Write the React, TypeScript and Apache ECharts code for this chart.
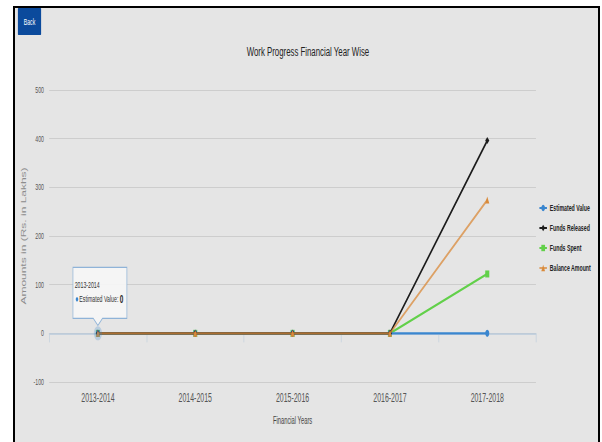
import React, { useEffect, useRef } from "react";
import * as echarts from "echarts";

const categories = ["2013-2014", "2014-2015", "2015-2016", "2016-2017", "2017-2018"];
const estimatedValue = [0, 0, 0, 0, 0];
const fundsReleased = [0, 0, 0, 0, 396];
const fundsSpent = [0, 0, 0, 0, 122];
const balanceAmount = [0, 0, 0, 0, 274];
const yTicks = { min: -100, max: 500, interval: 100 };

const FONT = "'Liberation Sans', Arial, sans-serif";
const COLORS = ["#3a86cf", "#1c1c1c", "#62d04a", "#d98a3a"];

// the reference is a horizontally squeezed screenshot: draw wide, then squeeze
const FRAME_W = 583;
const FRAME_H = 434;
const LOGICAL_W = 1005;
const SX = FRAME_W / LOGICAL_W;

export default function App() {
  const ref = useRef<HTMLDivElement>(null);

  useEffect(() => {
    if (!ref.current) return;
    const chart = echarts.init(ref.current, undefined, { renderer: "svg" });
    const mk = (name: string, data: number[], color: string, symbol: string, z: number, opacity = 1) => ({
      name,
      type: "line",
      data,
      symbol,
      symbolSize: 7,
      showSymbol: true,
      z,
      itemStyle: { color },
      lineStyle: { color, width: 2.4, opacity },
      emphasis: { disabled: true },
    });
    chart.setOption({
      animation: false,
      backgroundColor: "transparent",
      textStyle: { fontFamily: FONT },
      title: {
        text: "Work Progress Financial Year Wise",
        left: 500,
        textAlign: "center",
        top: 31,
        textStyle: { fontFamily: FONT, fontSize: 13.5, fontWeight: "normal", color: "#222" },
      },
      legend: {
        orient: "vertical",
        left: 903,
        top: 195,
        padding: 0,
        itemGap: 10,
        itemWidth: 13,
        itemHeight: 8,
        textStyle: { fontFamily: FONT, fontSize: 9, lineHeight: 10, color: "#222", fontWeight: "bold" },
        data: ["Estimated Value", "Funds Released", "Funds Spent", "Balance Amount"],
      },
      grid: { left: 59, right: 107, top: 82, bottom: 60, containLabel: false },
      xAxis: {
        type: "category",
        data: categories,
        boundaryGap: true,
        name: "Financial Years",
        nameLocation: "middle",
        nameGap: 34,
        nameTextStyle: { fontFamily: FONT, fontSize: 10, color: "#444" },
        axisLine: { lineStyle: { color: "#b9cadb", width: 1.5 } },
        axisTick: { show: true, length: 9, lineStyle: { color: "#c6d2de" } },
        axisLabel: { fontFamily: FONT, fontSize: 12, color: "#555", margin: 10 },
        splitLine: { show: false },
      },
      yAxis: {
        type: "value",
        min: yTicks.min,
        max: yTicks.max,
        interval: yTicks.interval,
        name: "Amounts in (Rs. in Lakhs)",
        nameLocation: "middle",
        nameRotate: 90,
        nameGap: 38,
        nameTextStyle: { fontFamily: FONT, fontSize: 12, color: "#8c8c8c" },
        axisLine: { show: false },
        axisTick: { show: false },
        axisLabel: { fontFamily: FONT, fontSize: 9, color: "#555", margin: 9 },
        splitLine: { lineStyle: { color: "#cdcdcd", width: 1.2 } },
      },
      series: [
        mk("Estimated Value", estimatedValue, COLORS[0], "circle", 3),
        mk("Funds Released", fundsReleased, COLORS[1], "diamond", 4),
        mk("Funds Spent", fundsSpent, COLORS[2], "rect", 2),
        mk("Balance Amount", balanceAmount, COLORS[3], "triangle", 5, 0.75),
      ],
    });

    const p = chart.convertToPixel({ xAxisIndex: 0, yAxisIndex: 0 }, [categories[0], estimatedValue[0]]) as number[];
    const px = p[0];
    const py = p[1];
    chart.setOption({
      graphic: [
        {
          type: "rect",
          left: 5,
          top: 0,
          shape: { width: 40, height: 27, r: 1 },
          style: { fill: "#0b4a9c" },
          z: 100,
        },
        {
          type: "text",
          x: 25,
          y: 13.5,
          style: { text: "Back", fill: "#fff", fontSize: 9, fontFamily: FONT, align: "center", verticalAlign: "middle" },
          z: 101,
        },
        {
          type: "circle",
          shape: { cx: px, cy: py, r: 7 },
          style: { fill: "rgba(58,134,207,0.25)" },
          z: 100,
        },
        {
          type: "polygon",
          shape: {
            points: [
              [px - 43, py - 66],
              [px + 50, py - 66],
              [px + 50, py - 15],
              [px + 8, py - 15],
              [px, py - 8],
              [px - 8, py - 15],
              [px - 43, py - 15],
            ],
          },
          style: { fill: "rgba(246,246,246,0.92)", stroke: "#8fb3d8", lineWidth: 1.2 },
          z: 102,
        },
        {
          type: "text",
          x: px - 40,
          y: py - 48,
          style: { text: categories[0], fill: "#333", fontSize: 9, fontFamily: FONT, verticalAlign: "middle" },
          z: 103,
        },
        {
          type: "circle",
          shape: { cx: px - 36, cy: py - 34, r: 2.2 },
          style: { fill: COLORS[0] },
          z: 103,
        },
        {
          type: "text",
          x: px - 32,
          y: py - 34,
          style: {
            text: "{n|Estimated Value: }{v|" + estimatedValue[0] + "}",
            verticalAlign: "middle",
            rich: {
              n: { fontSize: 9, fontFamily: FONT, fill: "#333", color: "#333" },
              v: { fontSize: 11, fontFamily: FONT, fontWeight: "bold", fill: "#222", color: "#222" },
            },
          },
          z: 103,
        },
      ],
    });

    return () => chart.dispose();
  }, []);

  return (
    <div style={{ position: "absolute", left: 0, top: 0, width: 602, height: 442, background: "#fff", overflow: "hidden" }}>
      <div
        style={{
          position: "absolute",
          left: 13,
          top: 6,
          width: FRAME_W,
          height: 436,
          background: "#e5e5e5",
          borderLeft: "2px solid #000",
          borderTop: "2px solid #000",
          borderRight: "2px solid #000",
          overflow: "hidden",
        }}
      >
        <div
          ref={ref}
          style={{
            width: LOGICAL_W,
            height: FRAME_H,
            transform: `scaleX(${SX})`,
            transformOrigin: "0 0",
          }}
        />
      </div>
    </div>
  );
}
